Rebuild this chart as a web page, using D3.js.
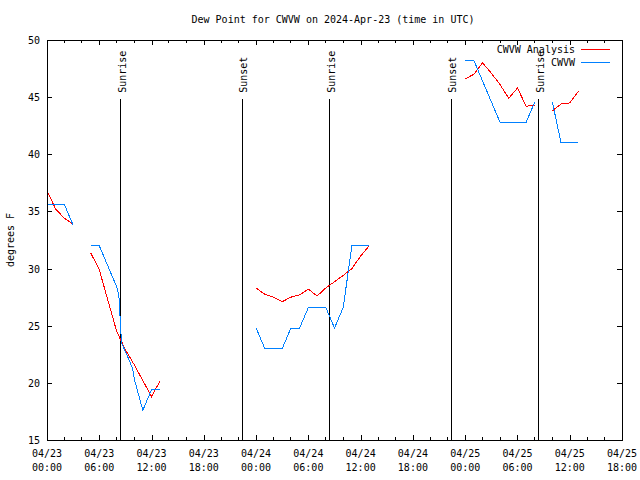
<!DOCTYPE html>
<html><head><meta charset="utf-8">
<script src="https://cdn.jsdelivr.net/npm/d3@7"></script>
<style>
body{margin:0;background:#fff;}
text{font-family:"DejaVu Sans Mono",monospace;font-size:10px;fill:#000;}
</style></head>
<body><svg id="c" width="640" height="480"></svg>
<script>
// ---- data (hours since 2024-04-23 00:00 UTC) ----
const analysisHours = [0,1,2,3,4,5,6,7,8,9,10,11,12,13,14,
  24,25,26,27,28,29,30,31,32,33,34,35,36,37,38,
  48,49,50,51,52,53,54,55,56,57,58,59,60,61];
const analysisValues = [36.8,35.2,34.4,33.9,null,31.4,29.9,27.2,24.5,22.9,21.6,20.2,18.8,20.2,null,
  28.3,27.75,27.5,27.1,27.5,27.7,28.2,27.6,28.3,28.85,29.4,30.0,31.1,32.0,null,
  46.6,47.0,48.0,47.1,46.1,44.9,45.8,44.2,44.3,null,43.8,44.4,44.5,45.5];
const obsHours = [0,1,2,3,4,5,6,7,8,8.25,8.55,9.2,9.8,10.1,11,12,13,14,
  24,25,26,27,28,29,30,31,32,33,34,35,36,37,38,
  48,49,50,51,52,53,54,55,56,57,58,59,60,61];
const obsValues = [35.6,35.6,35.6,33.8,null,32.0,32.0,30.2,28.4,27.6,23.5,22.4,21.3,20.1,17.6,19.4,19.4,null,
  24.8,23.0,23.0,23.0,24.8,24.8,26.6,26.6,26.6,24.8,26.6,32.0,32.0,32.0,null,
  48.2,48.2,46.4,44.6,42.8,42.8,42.8,42.8,44.6,null,44.6,41.0,41.0,41.0];
const sunHours = [8.38,22.38,32.37,46.37,56.36];
const sunLabels = ["Sunrise","Sunset","Sunrise","Sunset","Sunrise"];
const sunLineTop = 44.85;
const xTickHours = [0,6,12,18,24,30,36,42,48,54,60,66];
const xTickDates = ["04/23","04/23","04/23","04/23","04/24","04/24","04/24","04/24","04/25","04/25","04/25","04/25"];
const xTickTimes = ["00:00","06:00","12:00","18:00","00:00","06:00","12:00","18:00","00:00","06:00","12:00","18:00"];
const yTicks = [15,20,25,30,35,40,45,50];
const seriesNames = ["CWVW Analysis","CWVW"];
const seriesColors = ["#ff0000","#0080ff"];
const title = "Dew Point for CWVW on 2024-Apr-23 (time in UTC)";
const yLabel = "degrees F";

// ---- layout ----
const L=47, R=622, T=40, B=440;
const svg = d3.select("#c");
svg.append("rect").attr("width",640).attr("height",480).attr("fill","#fff");
const x = d3.scaleLinear().domain([0,66]).range([L,R]);
const y = d3.scaleLinear().domain([15,50]).range([B,T]);

// minor ticks every 2h
const minor = d3.range(0,67,2).filter(h=>h%6!==0);
const tickG = svg.append("g").attr("stroke","#000").attr("shape-rendering","crispEdges");
minor.forEach(h=>{
  tickG.append("line").attr("x1",x(h)).attr("x2",x(h)).attr("y1",B).attr("y2",B-3);
  tickG.append("line").attr("x1",x(h)).attr("x2",x(h)).attr("y1",T).attr("y2",T+3);
});
// major ticks via axes
const xb = svg.append("g").attr("transform",`translate(0,${B})`)
  .call(d3.axisBottom(x).tickValues(xTickHours).tickSize(-5).tickFormat(""));
const xt = svg.append("g").attr("transform",`translate(0,${T})`)
  .call(d3.axisTop(x).tickValues(xTickHours).tickSize(-5).tickFormat(""));
const yl = svg.append("g").attr("transform",`translate(${L},0)`)
  .call(d3.axisLeft(y).tickValues(yTicks).tickSize(-5).tickFormat(""));
const yr = svg.append("g").attr("transform",`translate(${R},0)`)
  .call(d3.axisRight(y).tickValues(yTicks).tickSize(-5).tickFormat(""));
[xb,xt,yl,yr].forEach(g=>{g.select(".domain").remove();g.selectAll("line").attr("stroke","#000").attr("shape-rendering","crispEdges");});

// tick labels
xTickHours.forEach((h,i)=>{
  const t = svg.append("text").attr("x",x(h)).attr("text-anchor","middle");
  t.append("tspan").attr("x",x(h)).attr("y",457).text(xTickDates[i]);
  t.append("tspan").attr("x",x(h)).attr("y",471).text(xTickTimes[i]);
});
yTicks.forEach(v=>{
  svg.append("text").attr("x",40).attr("y",y(v)+4).attr("text-anchor","end").text(v);
});

// sun lines
sunHours.forEach((h,i)=>{
  svg.append("line").attr("x1",Math.round(x(h))+0.5).attr("x2",Math.round(x(h))+0.5)
    .attr("y1",y(sunLineTop)).attr("y2",B).attr("stroke","#000").attr("shape-rendering","crispEdges");
  svg.append("text").attr("transform",`translate(${x(h)+5.5},${y(sunLineTop)-6}) rotate(-90)`)
    .attr("text-anchor","start").text(sunLabels[i]);
});

// data lines
const mk = (hs,vs)=>hs.map((h,i)=>[h,vs[i]]);
const line = d3.line().defined(d=>d[1]!=null).x(d=>x(d[0])).y(d=>y(d[1]));
svg.append("path").datum(mk(analysisHours,analysisValues)).attr("d",line)
  .attr("fill","none").attr("stroke",seriesColors[0]).attr("stroke-width",1).attr("shape-rendering","crispEdges");
svg.append("path").datum(mk(obsHours,obsValues)).attr("d",line)
  .attr("fill","none").attr("stroke",seriesColors[1]).attr("stroke-width",1).attr("shape-rendering","crispEdges");

// border
svg.append("rect").attr("x",L+0.5).attr("y",T+0.5).attr("width",R-L).attr("height",B-T)
  .attr("fill","none").attr("stroke","#000").attr("shape-rendering","crispEdges");

// title, axis label
svg.append("text").attr("x",333).attr("y",23).attr("text-anchor","middle").text(title);
svg.append("text").attr("transform","translate(14,240) rotate(-90)").attr("text-anchor","middle").text(yLabel);

// legend
seriesNames.forEach((n,i)=>{
  const ly = 49 + i*13;
  svg.append("text").attr("x",575).attr("y",ly+4).attr("text-anchor","end").text(n);
  svg.append("line").attr("x1",581).attr("x2",610).attr("y1",ly+0.5).attr("y2",ly+0.5)
    .attr("stroke",seriesColors[i]).attr("shape-rendering","crispEdges");
});
</script></body></html>
